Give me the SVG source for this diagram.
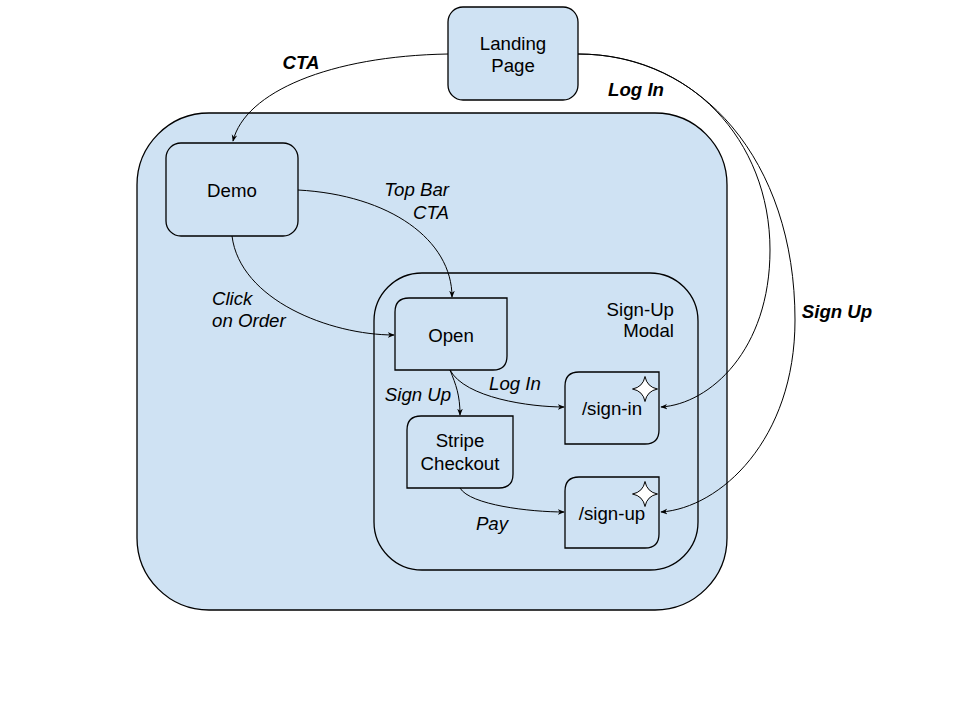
<svg xmlns="http://www.w3.org/2000/svg" width="960" height="720" viewBox="0 0 960 720">
<style>
.n{fill:#cfe2f3;stroke:#000;stroke-width:1.3}
.t{font-family:"Liberation Sans",Arial,sans-serif;font-size:18.67px;fill:#000;text-anchor:middle}
.i{font-style:italic}
.b{font-weight:bold;font-style:italic}
.e{text-anchor:end}
.st{text-anchor:start}
.c{fill:none;stroke:#000;stroke-width:1;marker-end:url(#a)}
.s{fill:#fff;stroke:#000;stroke-width:1}
</style>
<defs>
<marker id="a" viewBox="0 0 10 10" refX="9" refY="5" markerWidth="7" markerHeight="7" markerUnits="userSpaceOnUse" orient="auto">
<path d="M0,1 L10,5 L0,9 L3,5 Z" fill="#000"/>
</marker>
<path id="star" d="M0,-12.5 Q2,-2 12.5,0 Q2,2 0,12.5 Q-2,2 -12.5,0 Q-2,-2 0,-12.5 Z"/>
</defs>
<rect width="960" height="720" fill="#fff"/>
<g id="app">
<rect class="n" x="137" y="113" width="590" height="497" rx="72" ry="72"/>
</g>
<g id="modal">
<rect class="n" x="374" y="273" width="324" height="297" rx="48" ry="48"/>
<text class="t e" x="674" y="316">Sign-Up</text>
<text class="t e" x="674" y="337">Modal</text>
</g>
<g id="landing">
<rect class="n" x="448" y="7" width="130" height="93" rx="15" ry="15"/>
<text class="t" x="513" y="50">Landing</text>
<text class="t" x="513" y="72">Page</text>
</g>
<g id="demo">
<rect class="n" x="166" y="143" width="132" height="93" rx="15" ry="15"/>
<text class="t" x="232" y="197">Demo</text>
</g>
<g id="open">
<path class="n" d="M409,298 H507 V356 Q507,370 493,370 H395 V312 Q395,298 409,298 Z"/>
<text class="t" x="451" y="342">Open</text>
</g>
<g id="stripe">
<path class="n" d="M421,416 H513 V474 Q513,488 499,488 H407 V430 Q407,416 421,416 Z"/>
<text class="t" x="460" y="447">Stripe</text>
<text class="t" x="460" y="470">Checkout</text>
</g>
<g id="signin">
<path class="n" d="M579,372 H659 V430 Q659,444 645,444 H565 V386 Q565,372 579,372 Z"/>
<text class="t" x="612" y="415">/sign-in</text>
<use href="#star" class="s" x="645" y="389"/>
</g>
<g id="signup">
<path class="n" d="M579,477 H659 V534 Q659,548 645,548 H565 V491 Q565,477 579,477 Z"/>
<text class="t" x="612" y="520">/sign-up</text>
<use href="#star" class="s" x="645" y="494"/>
</g>
<g id="connectors">
<path class="c" d="M448,54 C330,56 245,92 233,141"/>
<path class="c" d="M578,54 C690,54 770,140 770,250 C770,350 710,404 661,407"/>
<path class="c" d="M578,54 C700,54 795,160 795,320 C795,440 720,508 661,512"/>
<path class="c" d="M298,190 C390,195 452,240 452,297"/>
<path class="c" d="M232,236 C240,300 330,335 394,335"/>
<path class="c" d="M450,370 C456,385 460,395 460,415"/>
<path class="c" d="M450,370 C465,398 530,407 564,407"/>
<path class="c" d="M460,488 C470,505 530,512 564,512"/>
</g>
<g id="labels">
<text class="t b" x="301" y="69">CTA</text>
<text class="t b" x="636" y="96">Log In</text>
<text class="t b" x="837" y="318">Sign Up</text>
<text class="t i e" x="449" y="196">Top Bar</text>
<text class="t i e" x="449" y="219">CTA</text>
<text class="t i st" x="212" y="305">Click</text>
<text class="t i st" x="212" y="327">on Order</text>
<text class="t i" x="418" y="401">Sign Up</text>
<text class="t i" x="515" y="390">Log In</text>
<text class="t i" x="492" y="530">Pay</text>
</g>
</svg>
